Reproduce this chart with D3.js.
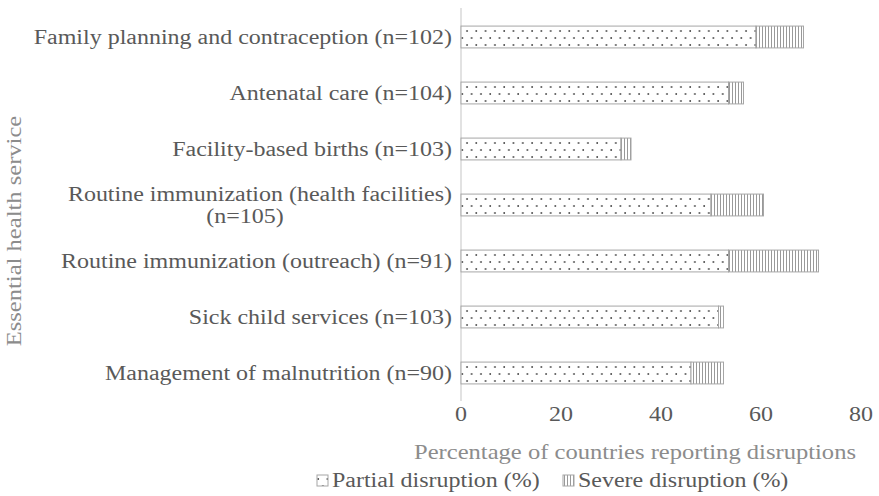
<!DOCTYPE html>
<html>
<head>
<meta charset="utf-8">
<script src="https://cdnjs.cloudflare.com/ajax/libs/d3/7.8.5/d3.min.js"></script>
<style>
  body { margin: 0; background: #fff; }
  svg { font-family: "Liberation Serif", "Times New Roman", serif; }
</style>
</head>
<body>
<div id="main"></div>
<script>
// services, top to bottom; labels can be split into lines
let services = [
  ['Family planning and contraception (n=102)'],
  ['Antenatal care (n=104)'],
  ['Facility-based births (n=103)'],
  ['Routine immunization (health facilities)', '(n=105)'],
  ['Routine immunization (outreach) (n=91)'],
  ['Sick child services (n=103)'],
  ['Management of malnutrition (n=90)']
];
let partial = [59, 53.5, 32, 50, 53.5, 51.5, 46];
let severe = [9.5, 3, 2, 10.5, 18, 1, 6.5];
let xTicks = [0, 20, 40, 60, 80];
let seriesNames = ['Partial disruption (%)', 'Severe disruption (%)'];

function chart() {
  let width = 879;
  let height = 496;
  let left = 461, right = 861, top = 9, bottom = 401;
  let sx = 1.17; // the source text is a bit wide

  let svg = d3.select('#main').append('svg')
    .attr('width', width).attr('height', height);

  // text stretched horizontally, anchored at (x, y)
  function label(g, x, y, str, anchor, size, fill, rot) {
    let t = 'translate(' + x + ',' + y + ')' + (rot ? ' rotate(' + rot + ')' : '') + ' scale(' + sx + ',1)';
    return g.append('text').attr('transform', t)
      .attr('text-anchor', anchor).attr('font-size', size).attr('fill', fill).text(str);
  }

  // fill patterns
  let defs = svg.append('defs');
  let dots = defs.append('pattern').attr('id', 'dots')
    .attr('patternUnits', 'userSpaceOnUse').attr('width', 9.3).attr('height', 14);
  dots.append('rect').attr('width', 9.3).attr('height', 14).attr('fill', '#fff');
  dots.append('circle').attr('cx', 2).attr('cy', 3).attr('r', 0.9).attr('fill', '#444');
  dots.append('circle').attr('cx', 6.65).attr('cy', 10).attr('r', 0.9).attr('fill', '#444');

  let lines = defs.append('pattern').attr('id', 'vlines')
    .attr('patternUnits', 'userSpaceOnUse').attr('width', 3).attr('height', 3);
  lines.append('rect').attr('width', 3).attr('height', 3).attr('fill', '#fff');
  lines.append('rect').attr('x', 0).attr('width', 1).attr('height', 3).attr('fill', '#999');

  let fills = ['url(#dots)', 'url(#vlines)'];

  let x = d3.scaleLinear().domain([0, 80]).range([left, right]);
  let y = d3.scaleBand().domain(d3.range(services.length))
    .range([top, bottom]).paddingInner(0.61).paddingOuter(0.305);

  // vertical axis line
  svg.append('line')
    .attr('x1', left).attr('x2', left).attr('y1', top - 1).attr('y2', bottom)
    .attr('stroke', '#d9d9d9').attr('stroke-width', 1.5);

  // stacked bars
  let rows = services.map((s, i) => [
    {i: i, x0: 0, x1: partial[i], k: 0},
    {i: i, x0: partial[i], x1: partial[i] + severe[i], k: 1}
  ]).flat();

  svg.append('g').selectAll('rect').data(rows).enter().append('rect')
    .attr('x', d => x(d.x0))
    .attr('y', d => y(d.i))
    .attr('width', d => x(d.x1) - x(d.x0))
    .attr('height', y.bandwidth())
    .attr('fill', d => fills[d.k])
    .attr('stroke', '#a6a6a6').attr('stroke-width', 1);

  // category labels
  let labels = svg.append('g');
  services.forEach((s, i) => {
    let cy = y(i) + y.bandwidth() / 2;
    if (s.length === 1) {
      label(labels, 452, cy + 7, s[0], 'end', 20.5, '#595959');
    } else {
      label(labels, 452, cy - 4, s[0], 'end', 20.5, '#595959');
      label(labels, 245, cy + 18, s[1], 'middle', 20.5, '#595959');
    }
  });

  // x tick labels
  let ticks = svg.append('g');
  xTicks.forEach(d => label(ticks, x(d), 421, d, 'middle', 20.5, '#595959'));

  // axis titles
  label(svg, 635, 459, 'Percentage of countries reporting disruptions', 'middle', 21, '#8c8c8c');
  label(svg, 21, 231, 'Essential health service', 'middle', 21, '#8c8c8c', -90);

  // legend
  let legend = svg.append('g');
  let lx = [317, 563];
  seriesNames.forEach((name, k) => {
    legend.append('rect').attr('x', lx[k]).attr('y', 475).attr('width', 11).attr('height', 11)
      .attr('fill', fills[k]).attr('stroke', '#a6a6a6');
    label(legend, lx[k] + 15, 487, name, 'start', 20.5, '#595959');
  });
}
chart();
</script>
</body>
</html>
